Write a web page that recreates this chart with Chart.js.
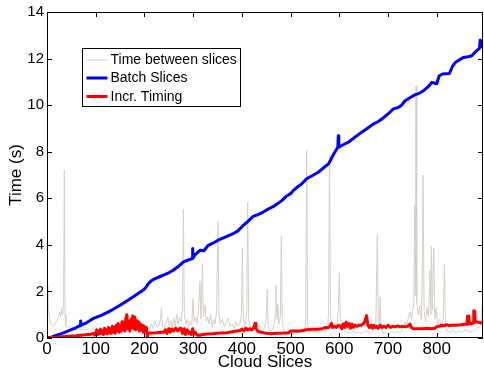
<!DOCTYPE html>
<html>
<head>
<meta charset="utf-8">
<title>Cloud Slices timing</title>
<script src="https://cdn.jsdelivr.net/npm/chart.js@4.4.1/dist/chart.umd.min.js"></script>
<style>
  html,body{margin:0;padding:0;background:#fff;}
  #wrap{width:484px;height:375px;}
</style>
</head>
<body>
<div id="wrap"><canvas id="c" width="484" height="375"></canvas></div>
<script>
// 读图估计的数据（x = 切片编号, y = 秒）
const xTicks = [0,100,200,300,400,500,600,700,800];
const yTicks = [0,2,4,6,8,10,12,14];

const gapX = [0,2,4,6,9,12,15,18,21,24,26,28,30,32,34,35.5,37,39,42,46,50,55,60,65,70,75,80,85,90,95,100,110,120,130,140,150,160,170,180,190,196,200,205,210,214,218,222,226,230,233,235,237,240,244,248,251,254,257,260,263,266,269,272,275,278,280,282,285,288,291,294,297,300,302,305,308,311,314,316,319,321,324,327,330,333,336,339,342,345,348,351,353,356,360,364,368,372,376,380,384,388,392,396,399,401,403,406,410,412,414,418,422,428,434,440,446,450,452,454,458,463,466,469,470,472,474,476,479,481,483,486,492,498,504,510,516,522,528,531,533,535,538,545,552,558,565,572,576,578,580,582,585,590,595,598,600,602,605,610,616,622,628,634,640,646,652,658,664,670,675,678,680,682,684,686,690,696,702,708,714,720,726,730,735,738,742,745,748,751,753,755,756,757.5,759,762,765,768,770,772,774,777,780,783,786,788,789,791,794,796,799,802,806,810,813,816,818,822,828,834,840,846,852,858,864,870,876,882,886,890,893,895];
const gapY = [2.25,1.6,1.0,0.7,0.55,0.5,0.55,0.65,0.8,0.95,1.1,0.9,1.3,1.0,1.4,7.2,1.0,0.5,0.45,0.5,0.4,0.45,0.35,0.4,0.35,0.45,0.35,0.4,0.3,0.4,0.3,0.35,0.3,0.4,0.35,0.3,0.4,0.35,0.4,0.45,0.6,0.4,0.5,0.35,0.6,0.4,0.7,0.45,0.55,0.8,1.27,0.5,0.4,0.6,0.9,0.5,0.75,0.45,0.85,0.5,1.0,0.6,0.9,0.7,1.2,5.52,1.0,0.6,0.8,0.5,0.7,0.55,1.7,0.7,0.9,0.6,1.2,2.44,0.8,3.2,0.9,1.4,0.7,0.9,0.6,1.0,0.5,0.8,0.6,1.1,5.0,1.0,0.6,0.8,0.5,0.7,0.85,0.5,0.6,0.4,0.7,0.5,0.6,1.0,3.88,0.8,0.5,1.0,5.84,0.8,0.4,0.3,0.35,0.25,0.3,0.4,0.8,2.08,0.6,0.3,0.35,0.6,1.0,2.27,0.8,1.45,0.6,0.9,4.37,0.7,0.3,0.25,0.3,0.2,0.25,0.2,0.3,0.25,0.6,8.05,0.6,0.3,0.25,0.3,0.2,0.3,0.25,0.5,1.0,7.9,0.9,0.5,0.35,0.5,1.2,2.8,1.0,0.5,0.3,0.25,0.2,0.3,0.2,0.25,0.2,0.3,0.25,0.2,0.3,0.6,4.41,0.8,0.5,1.77,0.4,0.2,0.25,0.2,0.3,0.2,0.3,0.2,0.4,0.7,0.5,0.9,1.13,0.8,1.2,1.5,5.7,1.8,10.83,1.5,1.0,1.4,0.8,2.0,7.0,1.2,0.7,1.3,0.9,2.9,1.0,3.94,1.2,3.88,0.8,1.3,0.5,0.8,0.4,0.7,3.17,0.5,0.3,0.25,0.35,0.2,0.3,0.25,0.35,0.3,0.25,0.3,0.4,0.5,0.55,1.4,0.65];

const batchX = [0,10,20,30,40,50,60,68,69,70,80,95,110,122,135,150,163,177,190,198,204,208,215,222,230,239,250,259,270,280,290,298,299,300,303,314,322,331,343,355,368,382,392,403,413,423,433,444,455,465,472,482,492,500,506,515,522,533,545,557,567,578,588,597,598,599,608,619,632,646,657,667,680,690,700,711,721,728,735,745,755,765,773,782,790,800,805,812,826,832,838,847,855,865,872,880,888,889,890,895];
const batchY = [0,0.05,0.12,0.19,0.27,0.36,0.45,0.53,0.73,0.55,0.64,0.84,0.96,1.08,1.22,1.41,1.58,1.77,1.95,2.06,2.2,2.34,2.47,2.55,2.62,2.7,2.8,2.91,3.08,3.27,3.35,3.41,3.84,3.44,3.55,3.77,3.75,3.98,4.1,4.24,4.35,4.48,4.6,4.84,5.02,5.22,5.3,5.41,5.55,5.65,5.75,5.9,6.1,6.2,6.34,6.5,6.6,6.84,6.98,7.12,7.3,7.48,7.88,8.19,8.69,8.2,8.3,8.41,8.62,8.84,9.0,9.15,9.3,9.45,9.62,9.84,9.9,10.0,10.19,10.32,10.44,10.52,10.62,10.78,10.98,10.92,11.25,11.34,11.36,11.65,11.83,11.95,12.05,12.08,12.12,12.3,12.45,12.79,12.5,12.62];

const incrX = [0,10,20,30,40,50,60,70,80,90,96,98,100,102,104,106,108,110,112,114,116,118,120,122,124,126,128,130,132,134,136,138,140,142,144,146,148,150,152,154,156,158,160,162,164,166,168,170,172,174,176,178,180,182,184,186,188,190,192,194,196,198,200,202,204,206,208,215,225,235,240,243,246,250,253,256,260,264,268,272,275,278,282,284,288,290,293,296,299,301,304,308,314,320,330,340,350,360,370,380,390,396,400,404,408,412,416,420,424,426,427,429,433,440,450,460,470,480,490,496,500,510,520,525,533,545,555,565,572,578,582,584,586,590,594,598,602,605,608,611,614,617,620,623,626,629,632,636,640,645,650,653,656,659,662,665,668,671,674,677,680,684,688,692,696,700,705,710,715,720,725,730,735,740,743,745,748,752,760,770,780,790,796,800,805,810,815,820,825,830,835,840,850,860,862,863,866,867,872,875,876,878,879,885,890,895];
const incrY = [0,0.02,0.03,0.05,0.07,0.09,0.1,0.12,0.14,0.16,0.2,0.12,0.2,0.35,0.15,0.3,0.18,0.38,0.2,0.3,0.15,0.42,0.2,0.35,0.18,0.45,0.22,0.4,0.2,0.5,0.25,0.45,0.2,0.55,0.3,0.62,0.25,0.5,0.3,0.7,0.35,0.6,0.3,0.85,1.0,0.4,0.7,0.3,0.8,0.45,0.95,0.4,0.9,0.35,0.75,0.4,0.7,0.3,0.6,0.35,0.55,0.25,0.5,0.3,0.45,0.05,0.22,0.22,0.23,0.25,0.25,0.35,0.2,0.4,0.25,0.38,0.3,0.42,0.3,0.4,0.42,0.2,0.4,0.15,0.35,0.2,0.25,0.15,0.4,0.15,0.25,0.12,0.12,0.15,0.17,0.18,0.2,0.22,0.23,0.27,0.3,0.32,0.38,0.3,0.42,0.35,0.4,0.35,0.42,0.55,0.63,0.4,0.28,0.25,0.2,0.18,0.2,0.2,0.22,0.22,0.3,0.3,0.3,0.32,0.35,0.38,0.38,0.4,0.45,0.45,0.55,0.63,0.45,0.5,0.45,0.55,0.5,0.4,0.6,0.45,0.68,0.5,0.62,0.42,0.6,0.45,0.55,0.5,0.55,0.55,0.62,0.75,0.96,0.53,0.45,0.55,0.42,0.55,0.45,0.5,0.42,0.55,0.45,0.5,0.45,0.55,0.45,0.5,0.48,0.52,0.48,0.5,0.48,0.5,0.55,0.6,0.45,0.4,0.4,0.4,0.42,0.4,0.42,0.48,0.5,0.55,0.52,0.57,0.53,0.55,0.55,0.55,0.57,0.6,0.58,0.93,0.94,0.6,0.62,0.65,1.17,1.15,0.7,0.68,0.65,0.66];

const FONT = "'Liberation Sans', Arial, Helvetica, sans-serif";
const GRAY = "rgb(212,208,200)", BLUE = "#0000ff", RED = "#ff0000";

function pts(xs, ys){ return xs.map((x,i)=>({x:x, y:ys[i]})); }

// MATLAB 风格的外框 + 内向刻度 + 图例
const matlabBox = {
  id: "matlabBox",
  afterDraw(chart){
    const {ctx, chartArea:a, scales} = chart;
    ctx.save();
    ctx.strokeStyle = "#000"; ctx.lineWidth = 1;
    ctx.strokeRect(a.left+0.5, a.top+0.5, a.right-a.left-1, a.bottom-a.top-1);
    ctx.beginPath();
    xTicks.forEach(v=>{
      const px = Math.round(scales.x.getPixelForValue(v))+0.5;
      ctx.moveTo(px, a.bottom); ctx.lineTo(px, a.bottom-5);
      ctx.moveTo(px, a.top); ctx.lineTo(px, a.top+5);
    });
    yTicks.forEach(v=>{
      const py = Math.round(scales.y.getPixelForValue(v))+0.5;
      ctx.moveTo(a.left, py); ctx.lineTo(a.left+5, py);
      ctx.moveTo(a.right, py); ctx.lineTo(a.right-5, py);
    });
    ctx.stroke();

    // 图例
    const lx = a.left+35.5, ly = a.top+36.5, lw = 158, lh = 58;
    ctx.fillStyle = "#fff"; ctx.fillRect(lx, ly, lw, lh);
    ctx.strokeStyle = "#000"; ctx.strokeRect(lx, ly, lw, lh);
    const rows = [11.5, 29.5, 48];
    ctx.font = "14px "+FONT; ctx.textBaseline = "middle"; ctx.textAlign = "left";
    chart.data.datasets.forEach((ds,i)=>{
      const y = ly + rows[i];
      ctx.beginPath();
      ctx.strokeStyle = ds.borderColor; ctx.lineWidth = ds.borderWidth;
      ctx.moveTo(lx+4, y); ctx.lineTo(lx+25, y); ctx.stroke();
      ctx.fillStyle = "#000";
      ctx.fillText(ds.label, lx+28, y+0.5);
    });
    ctx.restore();
  }
};

new Chart(document.getElementById("c"), {
  type: "line",
  data: {
    datasets: [
      {label:"Time between slices", data:pts(gapX,gapY), borderColor:GRAY, borderWidth:1, order:3},
      {label:"Batch Slices", data:pts(batchX,batchY), borderColor:BLUE, borderWidth:3, order:2},
      {label:"Incr. Timing", data:pts(incrX,incrY), borderColor:RED, borderWidth:3, order:1}
    ]
  },
  options: {
    responsive: false,
    animation: false,
    devicePixelRatio: 1,
    layout: {padding:{top:11, right:1, left:0, bottom:0}},
    elements: {point:{radius:0}, line:{tension:0, borderJoinStyle:"round"}},
    plugins: {legend:{display:false}, tooltip:{enabled:false}},
    scales: {
      x: {
        type: "linear", min: 0, max: 895,
        grid: {display:false, drawTicks:false}, border: {display:false},
        ticks: {color:"#000", padding:1, maxRotation:0, autoSkip:false,
                font:{family:FONT, size:17}},
        afterBuildTicks(s){ s.ticks = xTicks.map(v=>({value:v})); },
        title: {display:true, text:"Cloud Slices", color:"#000", padding:{top:0,bottom:2},
                font:{family:FONT, size:17}},
        afterFit(s){ s.height = 37; }
      },
      y: {
        min: 0, max: 14,
        grid: {display:false, drawTicks:false}, border: {display:false},
        ticks: {color:"#000", padding:3, autoSkip:false, font:{family:FONT, size:15}},
        afterBuildTicks(s){ s.ticks = yTicks.map(v=>({value:v})); },
        title: {display:true, text:"Time (s)", color:"#000", padding:{top:6,bottom:0},
                font:{family:FONT, size:17}},
        afterFit(s){ s.width = 47; }
      }
    }
  },
  plugins: [matlabBox]
});
</script>
</body>
</html>
